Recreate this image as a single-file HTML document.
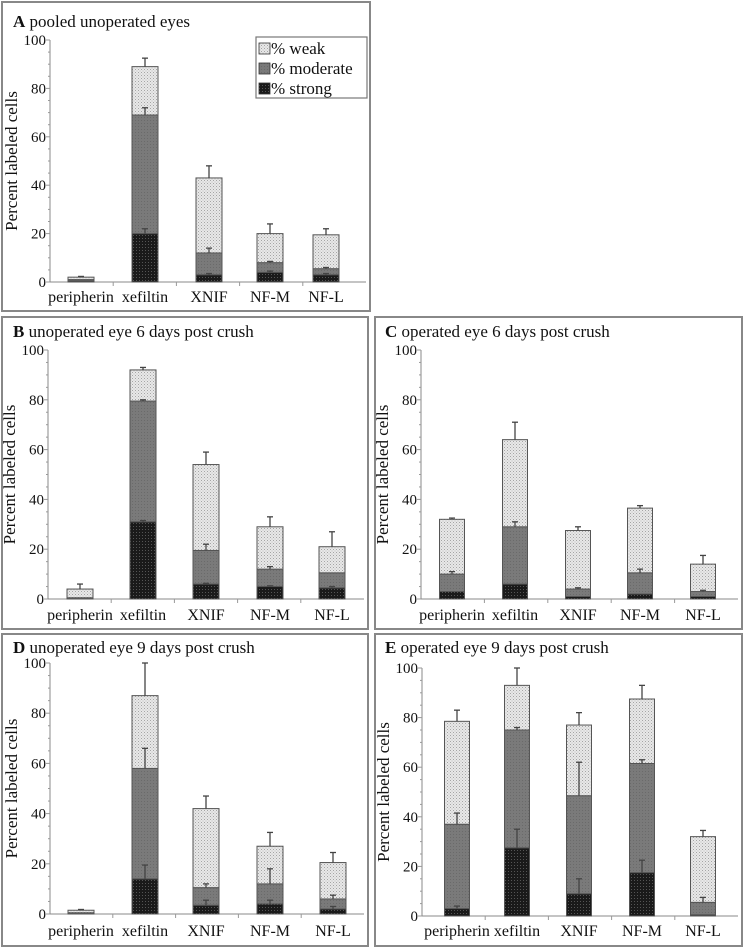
<!DOCTYPE html>
<html><head><meta charset="utf-8">
<style>
html,body{margin:0;padding:0;background:#fff;}
svg{display:block;}
svg text{font-family:"Liberation Serif","DejaVu Serif",serif;fill:#111;}
</style></head>
<body>
<svg id="s" width="744" height="952" xmlns="http://www.w3.org/2000/svg" font-family="Liberation Serif, DejaVu Serif, serif">
<defs>
<pattern id="pw" width="3" height="3" patternUnits="userSpaceOnUse">
<rect width="3" height="3" fill="#e8e8e8"/><rect x="0" y="0" width="1" height="1" fill="#a5a5a5"/><rect x="1.5" y="1.5" width="1" height="1" fill="#bdbdbd"/>
</pattern>
<pattern id="pm" width="3" height="3" patternUnits="userSpaceOnUse">
<rect width="3" height="3" fill="#7a7a7a"/><rect x="0" y="0" width="1" height="1" fill="#6a6a6a"/>
</pattern>
<pattern id="ps" width="3" height="3" patternUnits="userSpaceOnUse">
<rect width="3" height="3" fill="#1a1a1a"/><rect x="1" y="1" width="1" height="1" fill="#555"/>
</pattern>
</defs>
<g id="g"></g>
<rect x="256" y="37" width="111" height="61" fill="#fff" stroke="#777" stroke-width="1.2"/>
<rect x="259" y="43" width="11" height="11" fill="url(#pw)" stroke="#333" stroke-width="0.8"/>
<text x="271" y="54" font-size="17" font-family="Liberation Serif, serif">% weak</text>
<rect x="259" y="63" width="11" height="11" fill="url(#pm)" stroke="#333" stroke-width="0.8"/>
<text x="271" y="74" font-size="17" font-family="Liberation Serif, serif">% moderate</text>
<rect x="259" y="83" width="11" height="11" fill="url(#ps)" stroke="#333" stroke-width="0.8"/>
<text x="271" y="94" font-size="17" font-family="Liberation Serif, serif">% strong</text>
</svg>
<script>
var cats=["peripherin","xefiltin","XNIF","NF-M","NF-L"];
var F=' font-family="Liberation Serif, serif"';
var P=[
{box:[2,2,370,311],ax:50,y100:40,y0:282,xe:366,c:[81,145,209,270,326],w:26,tt:"pooled unoperated eyes",L:"A",tx:13,ty:27,ly:302,
 d:[[0.5,0,1,0,2,2.3],[20,22,69,72,89,92.5],[3,3.5,12,14,43,48],[4,4.5,8,8.5,20,24],[3,3.5,5.5,6,19.5,22]]},
{box:[2,317,368,629],ax:48,y100:350,y0:599,xe:364,c:[80,143,206,270,332],w:26,tt:"unoperated eye 6 days post crush",L:"B",tx:13,ty:337,ly:620,
 d:[[0,0,0.5,0,4,6],[31,31.5,79.5,80,92,93],[6,6.3,19.5,22,54,59],[5,5.3,12,13,29,33],[4.5,5,10.5,10.5,21,27]]},
{box:[375,317,742,629],ax:421,y100:350,y0:599,xe:738,c:[452,515,578,640,703],w:25,tt:"operated eye 6 days post crush",L:"C",tx:385,ty:337,ly:620,
 d:[[3,3,10,11,32,32.5],[6,6,29,31,64,71],[1,1,4,4.5,27.5,29],[2,2,10.5,12,36.5,37.5],[1,1,3,3.5,14,17.5]]},
{box:[2,634,368,946],ax:50,y100:663,y0:914,xe:364,c:[81,145,206,270,333],w:26,tt:"unoperated eye 9 days post crush",L:"D",tx:13,ty:653,ly:936,
 d:[[0,0,0.5,0,1.5,1.8],[14,19.5,58,66,87,100],[3.5,5.5,10.5,12,42,47],[4,5.5,12,18,27,32.5],[2,3,6,7.5,20.5,24.5]]},
{box:[375,634,742,946],ax:422,y100:668,y0:916,xe:738,c:[457,517,579,642,703],w:25,tt:"operated eye 9 days post crush",L:"E",tx:385,ty:653,ly:936,
 d:[[3,4,37,41.5,78.5,83],[27.5,35,75,76,93,100],[9,15,48.5,62,77,82],[17.5,22.5,61.5,63,87.5,93],[0.5,0.5,5.5,7.5,32,34.5]]}
];
var h="";
P.forEach(function(p){
 var b=p.box;
 h+='<rect x="'+b[0]+'" y="'+b[1]+'" width="'+(b[2]-b[0])+'" height="'+(b[3]-b[1])+'" fill="#fff" stroke="#888" stroke-width="2"/>';
 h+='<text x="'+p.tx+'" y="'+p.ty+'" font-size="17"'+F+'><tspan font-weight="bold">'+p.L+'</tspan>  '+p.tt+'</text>';
 var Y=function(v){return p.y0-(p.y0-p.y100)*v/100;};
 h+='<line x1="'+p.ax+'" y1="'+p.y100+'" x2="'+p.ax+'" y2="'+p.y0+'" stroke="#888" stroke-width="1"/>';
 h+='<line x1="'+p.ax+'" y1="'+p.y0+'" x2="'+p.xe+'" y2="'+p.y0+'" stroke="#888" stroke-width="1"/>';
 for(var v=0;v<=100;v+=5){var y=Y(v);var major=v%20==0;
  h+='<line x1="'+(p.ax-(major?4:2))+'" y1="'+y+'" x2="'+p.ax+'" y2="'+y+'" stroke="#999"/>';
  if(major)h+='<text x="'+(p.ax-4)+'" y="'+(y+5)+'" font-size="15" text-anchor="end"'+F+'>'+v+'</text>';}
 var step=(p.xe-p.ax)/5;
 for(var i=1;i<5;i++){var x=p.ax+step*i;h+='<line x1="'+x+'" y1="'+p.y0+'" x2="'+x+'" y2="'+(p.y0+4)+'" stroke="#999"/>';}
 var my=(p.y100+p.y0)/2;
 h+='<text transform="translate('+(p.ax-33)+','+my+') rotate(-90)" font-size="17" text-anchor="middle"'+F+'>Percent labeled cells</text>';
 p.d.forEach(function(d,i){
  var cx=p.c[i],x=cx-p.w/2;
  var seg=[[0,d[0],"ps"],[d[0],d[2],"pm"],[d[2],d[4],"pw"]];
  seg.forEach(function(s){if(s[1]>s[0])h+='<rect x="'+x+'" y="'+Y(s[1])+'" width="'+p.w+'" height="'+(Y(s[0])-Y(s[1]))+'" fill="url(#'+s[2]+')" stroke="#555" stroke-width="1"/>';});
  [[d[0],d[1]],[d[2],d[3]],[d[4],d[5]]].forEach(function(e){if(e[1]>e[0]&&e[0]>0){
   h+='<line x1="'+cx+'" y1="'+Y(e[0])+'" x2="'+cx+'" y2="'+Y(e[1])+'" stroke="#444" stroke-width="1.3"/>';
   h+='<line x1="'+(cx-3)+'" y1="'+Y(e[1])+'" x2="'+(cx+3)+'" y2="'+Y(e[1])+'" stroke="#444" stroke-width="1.3"/>';}});
  h+='<text x="'+cx+'" y="'+p.ly+'" font-size="16" text-anchor="middle"'+F+'>'+cats[i]+'</text>';
 });
});
document.getElementById("g").innerHTML=h;
</script>
</body></html>
